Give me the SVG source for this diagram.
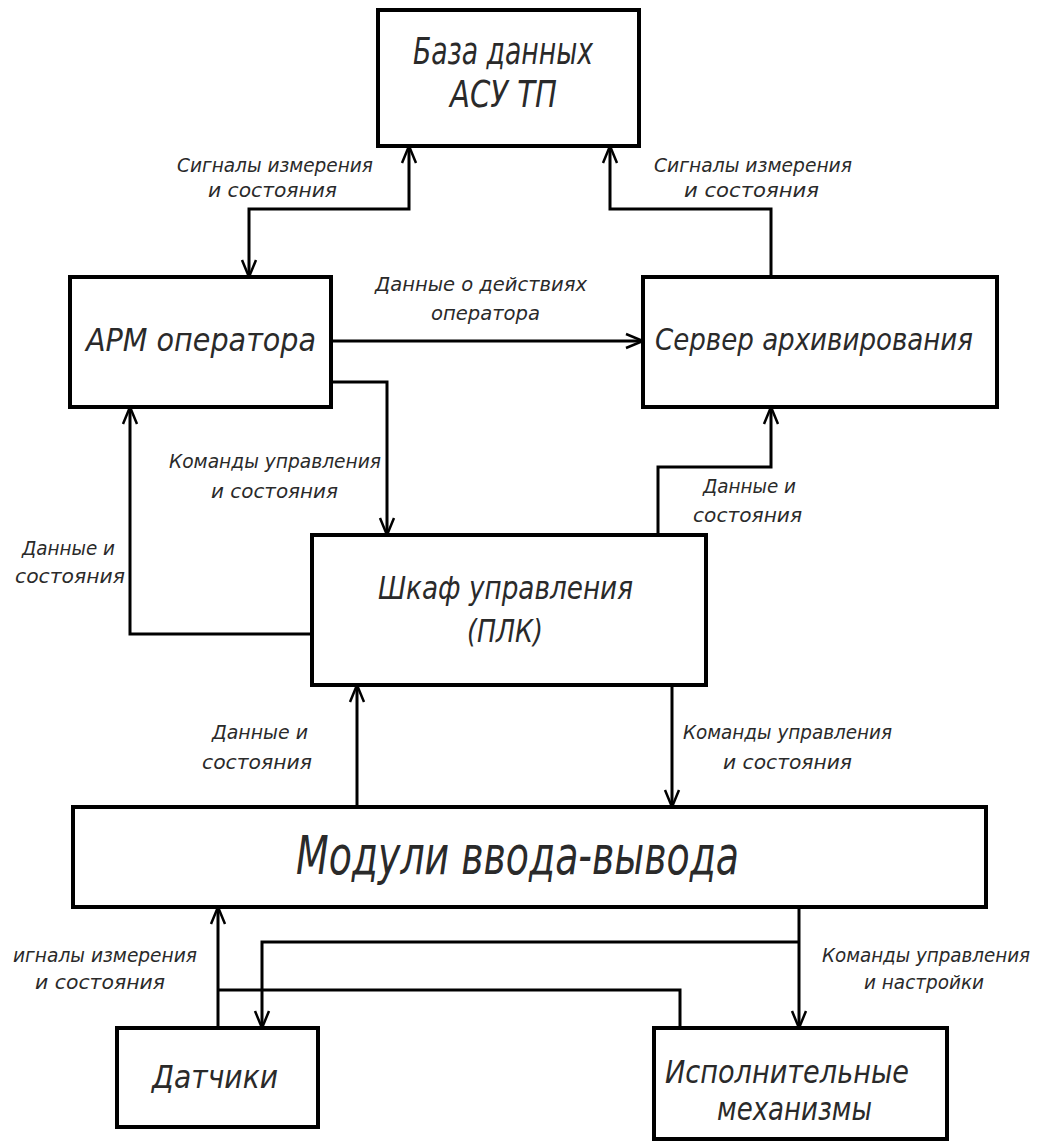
<svg xmlns="http://www.w3.org/2000/svg" width="1040" height="1141" viewBox="0 0 1040 1141">
<defs>
<style>
.box{fill:#fff;stroke:#000;stroke-width:4}
.con{fill:none;stroke:#000;stroke-width:3}
text{font-family:"DejaVu Sans","DejaVu Sans Condensed",sans-serif;font-style:italic;fill:#2a2a2a}
.n{font-size:32px}
.l{font-size:19px}
.c{font-family:"DejaVu Sans Condensed","DejaVu Sans",sans-serif}
</style>
<marker id="ah" viewBox="-20 -10 22 20" markerWidth="22" markerHeight="20" refX="0" refY="0" orient="auto-start-reverse" markerUnits="userSpaceOnUse">
<path d="M-17,-7 L0,0 L-17,7" fill="none" stroke="#000" stroke-width="2.5"/>
</marker>
</defs>
<rect width="1040" height="1141" fill="#fff"/>

<g id="connectors">
<path class="con" d="M249,277 V209 H409 V146" marker-start="url(#ah)" marker-end="url(#ah)"/>
<path class="con" d="M771,277 V209 H610 V146" marker-end="url(#ah)"/>
<path class="con" d="M331,341 H643" marker-end="url(#ah)"/>
<path class="con" d="M331,382 H387 V535" marker-end="url(#ah)"/>
<path class="con" d="M312,634 H130 V407" marker-end="url(#ah)"/>
<path class="con" d="M658,535 V467 H771 V407" marker-end="url(#ah)"/>
<path class="con" d="M357,807 V685" marker-end="url(#ah)"/>
<path class="con" d="M672,685 V807" marker-end="url(#ah)"/>
<path class="con" d="M218,1028 V907" marker-end="url(#ah)"/>
<path class="con" d="M218,990 H680 V1028"/>
<path class="con" d="M799,907 V1028" marker-end="url(#ah)"/>
<path class="con" d="M799,942 H262 V1028" marker-end="url(#ah)"/>
</g>

<g id="labels">
<text class="l" x="177" y="172" textLength="196" lengthAdjust="spacingAndGlyphs">Сигналы измерения</text>
<text class="l" x="208" y="197" textLength="129" lengthAdjust="spacingAndGlyphs">и состояния</text>
<text class="l" x="654" y="172" textLength="198" lengthAdjust="spacingAndGlyphs">Сигналы измерения</text>
<text class="l" x="684" y="197" textLength="135" lengthAdjust="spacingAndGlyphs">и состояния</text>
<text class="l" x="375" y="291" textLength="212" lengthAdjust="spacingAndGlyphs">Данные о действиях</text>
<text class="l" x="431" y="320" textLength="109" lengthAdjust="spacingAndGlyphs">оператора</text>
<text class="l" x="169" y="468" textLength="212" lengthAdjust="spacingAndGlyphs">Команды управления</text>
<text class="l" x="211" y="498" textLength="127" lengthAdjust="spacingAndGlyphs">и состояния</text>
<text class="l" x="22" y="555" textLength="93" lengthAdjust="spacingAndGlyphs">Данные и</text>
<text class="l" x="15" y="583" textLength="110" lengthAdjust="spacingAndGlyphs">состояния</text>
<text class="l" x="703" y="493" textLength="93" lengthAdjust="spacingAndGlyphs">Данные и</text>
<text class="l" x="693" y="522" textLength="109" lengthAdjust="spacingAndGlyphs">состояния</text>
<text class="l" x="212" y="739" textLength="96" lengthAdjust="spacingAndGlyphs">Данные и</text>
<text class="l" x="202" y="769" textLength="110" lengthAdjust="spacingAndGlyphs">состояния</text>
<text class="l" x="683" y="739" textLength="209" lengthAdjust="spacingAndGlyphs">Команды управления</text>
<text class="l" x="723" y="769" textLength="129" lengthAdjust="spacingAndGlyphs">и состояния</text>
<text class="l" x="13" y="962" textLength="184" lengthAdjust="spacingAndGlyphs">игналы измерения</text>
<text class="l" x="35" y="989" textLength="130" lengthAdjust="spacingAndGlyphs">и состояния</text>
<text class="l c" x="822" y="962" textLength="208" lengthAdjust="spacingAndGlyphs">Команды управления</text>
<text class="l" x="864" y="989" textLength="120" lengthAdjust="spacingAndGlyphs">и настройки</text>
</g>

<g id="db">
<rect class="box" x="378" y="10" width="261" height="136"/>
<text class="n" x="413" y="64" style="font-size:37px" textLength="180" lengthAdjust="spacingAndGlyphs">База данных</text>
<text class="n" x="450" y="107" style="font-size:37px" textLength="107" lengthAdjust="spacingAndGlyphs">АСУ ТП</text>
</g>

<g id="arm">
<rect class="box" x="70" y="277" width="261" height="130"/>
<text class="n" x="86" y="351" textLength="230" lengthAdjust="spacingAndGlyphs">АРМ оператора</text>
</g>

<g id="server">
<rect class="box" x="643" y="277" width="354" height="130"/>
<text class="n c" x="655" y="350" style="font-size:30px" textLength="318" lengthAdjust="spacingAndGlyphs">Сервер архивирования</text>
</g>

<g id="plc">
<rect class="box" x="312" y="535" width="394" height="150"/>
<text class="n" x="378" y="599" textLength="255" lengthAdjust="spacingAndGlyphs">Шкаф управления</text>
<text class="n" x="467" y="642" textLength="76" lengthAdjust="spacingAndGlyphs">(ПЛК)</text>
</g>

<g id="io">
<rect class="box" x="73" y="807" width="913" height="100"/>
<text class="n" x="296" y="874" style="font-size:54px" textLength="443" lengthAdjust="spacingAndGlyphs">Модули ввода-вывода</text>
</g>

<g id="sensors">
<rect class="box" x="117" y="1028" width="201" height="99"/>
<text class="n" x="152" y="1088" textLength="126" lengthAdjust="spacingAndGlyphs">Датчики</text>
</g>

<g id="actuators">
<rect class="box" x="654" y="1028" width="293" height="111"/>
<text class="n" x="665" y="1083" textLength="244" lengthAdjust="spacingAndGlyphs">Исполнительные</text>
<text class="n" x="717" y="1120" textLength="155" lengthAdjust="spacingAndGlyphs">механизмы</text>
</g>
</svg>
